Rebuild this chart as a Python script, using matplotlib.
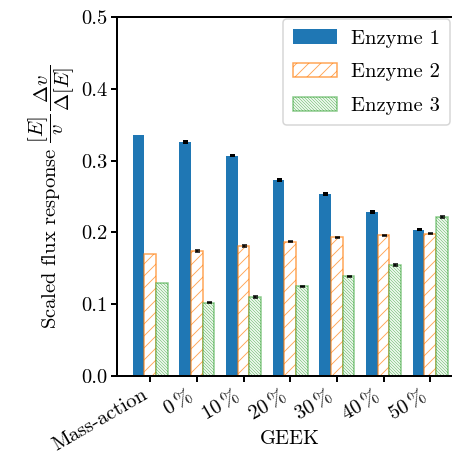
import matplotlib
matplotlib.use("Agg")
import matplotlib.pyplot as plt
import numpy as np

# Computer Modern look (no LaTeX available)
plt.rcParams["font.family"] = "serif"
plt.rcParams["font.serif"] = ["cmr10"]
plt.rcParams["mathtext.fontset"] = "cm"
plt.rcParams["axes.formatter.use_mathtext"] = True
plt.rcParams["axes.unicode_minus"] = False
plt.rcParams["hatch.linewidth"] = 0.9

categories = ["Mass-action", r"$0\,\%$", r"$10\,\%$", r"$20\,\%$",
              r"$30\,\%$", r"$40\,\%$", r"$50\,\%$"]
series_names = ["Enzyme 1", "Enzyme 2", "Enzyme 3"]

enzyme1 = [0.336, 0.326, 0.307, 0.273, 0.253, 0.228, 0.204]
enzyme2 = [0.170, 0.174, 0.181, 0.187, 0.193, 0.196, 0.198]
enzyme3 = [0.129, 0.102, 0.110, 0.125, 0.139, 0.155, 0.221]

# mass-action has no error bar
err1 = [0.0012, 0.0012, 0.0012, 0.0012, 0.0012, 0.0012]
err2 = [0.0008, 0.0008, 0.0008, 0.0008, 0.0008, 0.0008]
err3 = [0.0008, 0.0008, 0.0008, 0.0008, 0.0012, 0.0012]

values = [enzyme1, enzyme2, enzyme3]
errors = [err1, err2, err3]

colors = ["#1f77b4", "#ff7f0e", "#2ca02c"]
hatches = [None, "//", "\\\\\\\\\\\\\\\\"]
edge_alpha = [1.0, 0.7, 0.55]

fs = 20.5
fig = plt.figure(figsize=(452 / 72, 459 / 72), dpi=72)
ax = fig.add_axes([117 / 452, (459 - 376) / 459, 346.5 / 452, 359 / 459])

x = np.arange(len(categories))
width = 0.25

for i in range(3):
    pos = x + (i - 1) * width
    if hatches[i] is None:
        ax.bar(pos, values[i], width, color=colors[i], label=series_names[i])
    else:
        edge = matplotlib.colors.to_rgba(colors[i], edge_alpha[i])
        ax.bar(pos, values[i], width, facecolor="white", edgecolor=edge,
               hatch=hatches[i], linewidth=1.5, label=series_names[i])
    ax.errorbar(pos[1:], values[i][1:], yerr=errors[i], fmt="none",
                ecolor="black", elinewidth=1.5, capsize=2.5,
                capthick=2 if i == 0 else 1.5)

ax.set_xlim(-0.7125, 6.7125)
ax.set_ylim(0, 0.5)
ax.set_yticks([0.0, 0.1, 0.2, 0.3, 0.4, 0.5])
ax.set_yticklabels(["0.0", "0.1", "0.2", "0.3", "0.4", "0.5"])
ax.set_xticks(x)
ax.set_xticklabels(categories, rotation=30, ha="right")

for s in ax.spines.values():
    s.set_linewidth(2)
ax.tick_params(axis="both", width=2, length=6, labelsize=fs)

ax.set_xlabel("GEEK", fontsize=fs)
ax.xaxis.set_label_coords(0.5, -0.152)
ax.set_ylabel(r"Scaled flux response $\dfrac{[E]}{v}\,\dfrac{\Delta v}{\Delta [E]}$",
              fontsize=fs)

leg = ax.legend(loc="upper right", bbox_to_anchor=(450 / 452, (459 - 19) / 459),
                bbox_transform=fig.transFigure, borderaxespad=0, fontsize=fs,
                handlelength=2.1, handletextpad=0.7, labelspacing=0.75,
                borderpad=0.5, fancybox=True, edgecolor="0.8")
leg.get_frame().set_linewidth(1.5)

fig.savefig("out.png", dpi=72)
